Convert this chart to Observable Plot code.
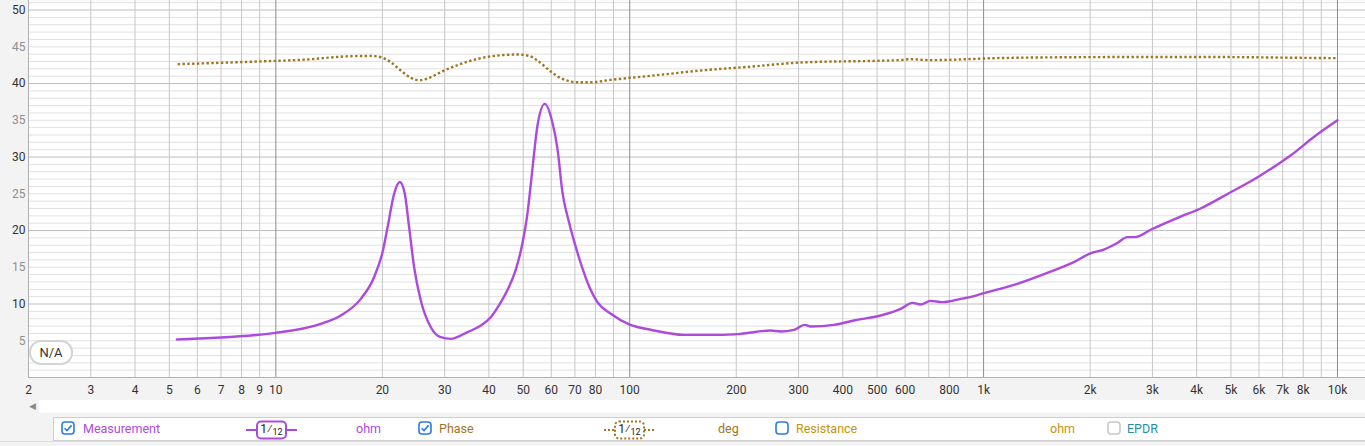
<!DOCTYPE html>
<html>
<head>
<meta charset="utf-8">
<script src="https://cdn.jsdelivr.net/npm/d3@7"></script>
<script src="https://cdn.jsdelivr.net/npm/@observablehq/plot@0.6"></script>
<style>
  html, body { margin: 0; padding: 0; background: #f3f3f3; width: 1365px; height: 446px; overflow: hidden; font-family: Roboto, "Noto Sans", sans-serif; }
  #wrap { position: relative; width: 1365px; height: 446px; }
  #chart { position: absolute; left: 0; top: 0; }
  .abs { position: absolute; }
  .badge { left: 29px; top: 340px; width: 40px; height: 21px; border: 2px solid #d4d4d4; border-radius: 12px; background: #fff; font-size: 13px; color: #333; text-align: center; line-height: 21px; }
  .scroll { left: 39px; top: 400px; width: 1326px; height: 13px; background: #fff; }
  .arrow { left: 29px; top: 400px; font-size: 9px; color: #8a8a8a; line-height: 13px; }
  .legend { left: 53px; top: 417px; width: 1320px; height: 22px; background: #fff; border: 1px solid #cfcfcf; }
  .lt { position: absolute; top: 0; line-height: 22px; font-size: 12.5px; white-space: nowrap; }
  .cb { position: absolute; top: 4px; width: 12px; height: 12px; border-radius: 3px; background: #fff; }
  .smp { position: absolute; top: 3px; height: 14px; width: 25px; font-size: 12px; color: #222; line-height: 14px; text-align: center; }
  .smp sub { font-size: 9px; vertical-align: -2px; }
  .bottom { left: 0; top: 441px; width: 1365px; height: 1px; background: #dcdcdc; }
</style>
</head>
<body>
<div id="wrap">
  <div id="chart"></div>
  <div class="abs badge">N/A</div>
  <div class="abs scroll"></div>
  <div class="abs arrow">&#9664;</div>
  <div class="abs legend" id="legend"></div>
  <div class="abs bottom"></div>
</div>
<script>
// ---- Data (frequency in Hz, values in the left-axis units) ----
const impFreq = [5.25, 10, 13.4, 15.26, 17.38, 18.95, 20.02, 20.69, 21.59, 22.4, 23.14, 23.8, 24.59, 25.68, 27.41, 29.25, 31.22, 34.79, 37.94, 40.49, 42.7, 45.13, 47.6, 49.77, 51.4, 53.1, 54.87, 57.54, 60.47, 62.5, 64.55, 67.4, 71.17, 75.94, 81.06, 88.4, 100, 114.6, 142.4, 176.9, 205.9, 250.2, 267.1, 291.1, 312.2, 324.6, 377.6, 430.1, 511.7, 583, 629, 663.7, 707.8, 764, 807, 861, 909, 1002, 1245, 1545, 1799, 2004, 2187, 2387, 2547, 2688, 2964, 3602, 4102, 4986, 6060, 7366, 8667, 10000];
const impOhm  = [5.17, 6.08, 7.3, 8.44, 10.7, 13.65, 17.05, 20.45, 25.0, 26.6, 25.0, 20.45, 15.0, 10.48, 6.84, 5.48, 5.26, 6.17, 7.07, 8.2, 9.8, 11.9, 14.6, 18.3, 22.3, 28.4, 34.3, 37.24, 34.7, 31.1, 25.2, 21.1, 17.0, 12.97, 10.25, 8.67, 7.2, 6.5, 5.8, 5.8, 5.94, 6.39, 6.26, 6.48, 7.16, 6.94, 7.16, 7.76, 8.44, 9.34, 10.16, 9.93, 10.43, 10.25, 10.39, 10.7, 10.9, 11.47, 12.74, 14.4, 15.7, 16.9, 17.4, 18.3, 19.1, 19.1, 20.1, 21.9, 23.0, 25.2, 27.5, 30.2, 32.9, 35.0];

const phaseFreq = [5.28, 10, 11.77, 16.29, 18.55, 19.8, 21.13, 22.55, 24.06, 25.4, 27.11, 29.89, 33.31, 37.13, 41.37, 48.18, 51.94, 54.87, 59.83, 63.85, 71.17, 77.59, 88.4, 100.6, 114.6, 158.7, 219.8, 304.1, 583, 620, 700, 1117, 2141, 4102, 7863, 10000];
const phaseVal  = [42.63, 43.09, 43.22, 43.72, 43.76, 43.58, 42.9, 41.77, 40.78, 40.45, 40.78, 41.77, 42.67, 43.35, 43.76, 43.95, 43.76, 43.13, 41.63, 40.73, 40.18, 40.18, 40.5, 40.78, 41.05, 41.77, 42.3, 42.86, 43.2, 43.32, 43.18, 43.47, 43.6, 43.62, 43.5, 43.45];

const xTicks  = [2, 3, 4, 5, 6, 7, 8, 9, 10, 20, 30, 40, 50, 60, 70, 80, 100, 200, 300, 400, 500, 600, 800, 1000, 2000, 3000, 4000, 5000, 6000, 7000, 8000, 10000];
const xLabels = ["2", "3", "4", "5", "6", "7", "8", "9", "10", "20", "30", "40", "50", "60", "70", "80", "100", "200", "300", "400", "500", "600", "800", "1k", "2k", "3k", "4k", "5k", "6k", "7k", "8k", "10k"];
const xGridMinor = [3, 4, 5, 6, 7, 8, 9, 20, 30, 40, 50, 60, 70, 80, 90, 200, 300, 400, 500, 600, 700, 800, 900, 2000, 3000, 4000, 5000, 6000, 7000, 8000, 9000];
const xGridMajor = [10, 100, 1000, 10000];
const yLabelsMajor = [10, 20, 30, 40, 50];
const yLabelsMinor = [5, 15, 25, 35, 45];
const yGridMinor = [1, 2, 3, 4, 5, 6, 7, 8, 9, 11, 12, 13, 14, 15, 16, 17, 18, 19, 21, 22, 23, 24, 25, 26, 27, 28, 29, 31, 32, 33, 34, 35, 36, 37, 38, 39, 41, 42, 43, 44, 45, 46, 47, 48, 49, 51];
const yGridMajor = [10, 20, 30, 40, 50];

const purple = "#ac4ade";
const brown = "#a3741f";

const imp = impFreq.map((f, i) => ({f, v: impOhm[i]}));
const phase = phaseFreq.map((f, i) => ({f, v: phaseVal[i]}));
const xLabelData = xTicks.map((t, i) => ({t, label: xLabels[i]}));

const chart = Plot.plot({
  width: 1365,
  height: 400,
  marginLeft: 28,
  marginRight: 0,
  marginTop: 0,
  marginBottom: 23,
  style: {background: "transparent", fontFamily: "Roboto, Noto Sans, sans-serif", fontSize: "12px", overflow: "visible"},
  x: {type: "log", domain: [2, 12000], axis: null},
  y: {domain: [0, 51.3], axis: null},
  marks: [
    Plot.frame({fill: "#ffffff", stroke: null}),
    Plot.ruleY(yGridMinor, {stroke: "#e1e1e1", strokeWidth: 1}),
    Plot.ruleY(yGridMajor, {stroke: "#bdbdbd", strokeWidth: 1}),
    Plot.ruleX(xGridMinor, {stroke: "#c6c6c6", strokeWidth: 1}),
    Plot.ruleX(xGridMajor, {stroke: "#8c8c8c", strokeWidth: 1}),
    Plot.ruleY([0], {stroke: "#b0b0b0"}),
    Plot.ruleX([2], {stroke: "#b0b0b0"}),
    Plot.axisY({ticks: yLabelsMajor, tickSize: 0, tickPadding: 3, label: null, tickFormat: d => String(d), fill: "#333", fontSize: 12}),
    Plot.axisY({ticks: yLabelsMinor, tickSize: 0, tickPadding: 3, label: null, tickFormat: d => String(d), fill: "#8f8f8f", fontSize: 12}),
    Plot.text(xLabelData, {x: "t", text: "label", frameAnchor: "bottom", dy: 13, lineAnchor: "middle", fill: "#333", fontSize: 12}),
    Plot.line(phase, {x: "f", y: "v", stroke: brown, strokeWidth: 2.4, strokeDasharray: "2.4,2.4", strokeLinecap: "butt", curve: "monotone-x"}),
    Plot.line(imp, {x: "f", y: "v", stroke: purple, strokeWidth: 2.4, curve: "monotone-x"})
  ]
});
document.getElementById("chart").appendChild(chart);

// ---- Legend row ----
const checkSvg = (color, checked) =>
  `<svg width="14" height="14" style="position:absolute;left:-1px;top:-1px"><rect x="1" y="1" width="12" height="12" rx="3" fill="#fff" stroke="${color}" stroke-width="1.6"/>` +
  (checked ? `<path d="M3.6 7.2 L6 9.6 L10.6 4.4" fill="none" stroke="${color}" stroke-width="1.6"/>` : "") + `</svg>`;

const legendItems = [
  {type: "cb", x: 8, color: "#2a7be4", checked: true},
  {type: "text", x: 29, text: "Measurement", color: purple},
  {type: "sample", x: 192, color: purple, dashed: false},
  {type: "text", x: 302, text: "ohm", color: purple},
  {type: "cb", x: 365, color: "#2a7be4", checked: true},
  {type: "text", x: 385, text: "Phase", color: brown},
  {type: "sample", x: 550, color: brown, dashed: true},
  {type: "text", x: 664, text: "deg", color: brown},
  {type: "cb", x: 722, color: "#2a7be4", checked: false},
  {type: "text", x: 742, text: "Resistance", color: "#c4930a"},
  {type: "text", x: 996, text: "ohm", color: "#c4930a"},
  {type: "cb", x: 1054, color: "#c8c8c8", checked: false},
  {type: "text", x: 1073, text: "EPDR", color: "#1f8fa3"}
];
const legend = document.getElementById("legend");
for (const it of legendItems) {
  const el = document.createElement("div");
  if (it.type === "cb") {
    el.className = "cb";
    el.style.left = it.x + "px";
    el.innerHTML = checkSvg(it.color, it.checked);
  } else if (it.type === "text") {
    el.className = "lt";
    el.style.left = it.x + "px";
    el.style.color = it.color;
    el.textContent = it.text;
  } else {
    el.style.position = "absolute";
    el.style.left = it.x + "px";
    el.style.top = "0px";
    el.style.width = "51px";
    el.style.height = "22px";
    const dash = it.dashed ? `stroke-dasharray="2,2"` : "";
    el.innerHTML = `<svg width="51" height="22" style="position:absolute;left:0;top:0"><line x1="0" y1="12" x2="51" y2="12" stroke="${it.color}" stroke-width="2" ${dash}/>` +
      `<rect x="11" y="3.5" width="29" height="17" rx="4" fill="#fff" stroke="${it.color}" stroke-width="2" ${dash}/></svg>` +
      `<div class="smp" style="left:13px;top:4px">1&frasl;<sub>12</sub></div>`;
  }
  legend.appendChild(el);
}
</script>
</body>
</html>
